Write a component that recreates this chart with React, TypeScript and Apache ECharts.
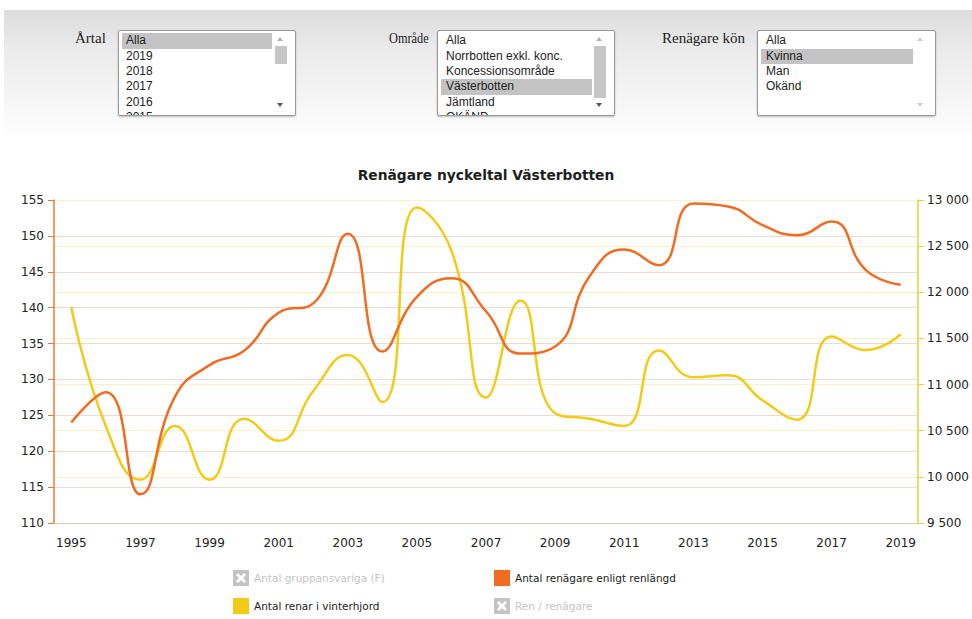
import React, { useEffect, useRef } from "react";
import * as echarts from "echarts";

// ---- data ----
const years = [
  "1995", "1996", "1997", "1998", "1999", "2000", "2001", "2002", "2003", "2004",
  "2005", "2006", "2007", "2008", "2009", "2010", "2011", "2012", "2013", "2014",
  "2015", "2016", "2017", "2018", "2019",
];
const renagareEnligtRenlangd = [
  124, 128.2, 114, 127.6, 132, 134, 139.3, 140.6, 150.3, 133.9,
  141.5, 144.1, 139.5, 133.6, 134.6, 144.4, 148.1, 145.9, 154.5, 154.1,
  151.5, 150.1, 152, 145.2, 143.2,
];
const renarIVinterhjord = [
  11840, 10550, 9970, 10550, 9970, 10630, 10390, 10930, 11320, 10810,
  12920, 12450, 10860, 11910, 10690, 10630, 10550, 11370, 11080, 11100,
  10830, 10620, 11520, 11375, 11545,
];
const gruppansvariga: number[] = [];
const renPerRenagare: number[] = [];

const seriesNames = [
  "Antal gruppansvariga (F)",
  "Antal renägare enligt renlängd",
  "Antal renar i vinterhjord",
  "Ren / renägare",
];
const leftAxis = { min: 110, max: 155, interval: 5 };
const rightAxis = { min: 9500, max: 13000, interval: 500 };
const chartTitle = "Renägare nyckeltal Västerbotten";

const artalOptions = ["Alla", "2019", "2018", "2017", "2016", "2015"];
const omradeOptions = ["Alla", "Norrbotten exkl. konc.", "Koncessionsområde", "Västerbotten", "Jämtland", "OKÄND"];
const konOptions = ["Alla", "Kvinna", "Man", "Okänd"];

const ORANGE = "#EF6C22";
const YELLOW = "#F2CB18";

const X_ICON =
  "path://M0,0L16,0L16,16L0,16Z M6,8L3,11L5,13L8,10L11,13L13,11L10,8L13,5L11,3L8,6L5,3L3,5Z";

type ListBoxProps = {
  left: number;
  top: number;
  width: number;
  items: string[];
  selected: number;
  textLeft: number;
  hlWidth: number;
  thumb: [number, number] | null;
  arrowsFaint?: boolean;
};

function Arrow({ x, y, up, color }: { x: number; y: number; up: boolean; color: string }) {
  const s: React.CSSProperties = {
    position: "absolute",
    left: x,
    top: y,
    width: 0,
    height: 0,
    borderLeft: "3.5px solid transparent",
    borderRight: "3.5px solid transparent",
  };
  if (up) s.borderBottom = `4px solid ${color}`;
  else s.borderTop = `4px solid ${color}`;
  return <div style={s} />;
}

function ListBox({ left, top, width, items, selected, textLeft, hlWidth, thumb, arrowsFaint }: ListBoxProps) {
  const height = 86;
  const lh = 15.3;
  return (
    <div
      style={{
        position: "absolute",
        left,
        top,
        width,
        height,
        boxSizing: "border-box",
        border: "1px solid #9a9a9a",
        borderRadius: 2,
        background: "#fff",
        boxShadow: "0 1px 2px rgba(0,0,0,0.25)",
        overflow: "hidden",
        fontFamily: "'Liberation Sans', Arial, sans-serif",
        fontSize: 12,
        color: "#222",
      }}
    >
      {items.map((t, i) => (
        <div
          key={t}
          style={{
            position: "absolute",
            left: 3,
            top: 2.4 + i * lh,
            width: hlWidth,
            height: lh,
            lineHeight: lh + "px",
            background: i === selected ? "#c3c3c3" : "transparent",
            paddingLeft: textLeft,
            boxSizing: "border-box",
            whiteSpace: "nowrap",
          }}
        >
          {t}
        </div>
      ))}
      <Arrow x={width - 20} y={6} up={true} color={arrowsFaint ? "#d0d0d0" : "#b0b0b0"} />
      {thumb && (
        <div
          style={{
            position: "absolute",
            left: width - 22,
            top: thumb[0],
            width: 12,
            height: thumb[1],
            background: "#c6c6c6",
          }}
        />
      )}
      <Arrow x={width - 20} y={height - 14} up={false} color={arrowsFaint ? "#d0d0d0" : "#555"} />
    </div>
  );
}

const labelStyle: React.CSSProperties = {
  position: "absolute",
  top: 29,
  fontFamily: "'Liberation Serif', 'Times New Roman', serif",
  fontSize: 15,
  color: "#222",
  lineHeight: "18px",
  whiteSpace: "nowrap",
  transformOrigin: "left top",
};

export default function App() {
  const ref = useRef<HTMLDivElement>(null);

  useEffect(() => {
    if (!ref.current) return;
    const chart = echarts.init(ref.current, undefined, { renderer: "svg" });
    const fmt = (v: number) => String(v).replace(/\B(?=(\d{3})+(?!\d))/g, " ");
    chart.setOption({
      animation: false,
      backgroundColor: "transparent",
      textStyle: { fontFamily: "'DejaVu Sans', Verdana, sans-serif" },
      title: {
        text: chartTitle,
        left: "center",
        top: 163,
        textStyle: {
          fontFamily: "'DejaVu Sans', Verdana, sans-serif",
          fontSize: 13.8,
          fontWeight: "bold",
          color: "#1e1e1e",
        },
      },
      grid: { left: 54, right: 51, top: 200, bottom: 96, containLabel: false },
      legend: {
        left: 228,
        top: 559,
        width: 540,
        orient: "horizontal",
        itemWidth: 16,
        itemHeight: 16,
        itemGap: 0,
        inactiveColor: "#c4c4c4",
        textStyle: {
          fontFamily: "'DejaVu Sans', Verdana, sans-serif",
          fontSize: 10.5,
          color: "#222",
          width: 240,
          height: 28,
          lineHeight: 28,
        },
        data: [
          { name: seriesNames[0], icon: X_ICON },
          { name: seriesNames[1], icon: "rect" },
          { name: seriesNames[2], icon: "rect" },
          { name: seriesNames[3], icon: X_ICON },
        ],
        selected: {
          [seriesNames[0]]: false,
          [seriesNames[3]]: false,
        },
      },
      xAxis: {
        type: "category",
        data: years,
        boundaryGap: true,
        axisLine: { show: true, lineStyle: { color: "#cfc8c0" } },
        axisTick: { show: false },
        axisLabel: { interval: 1, margin: 14, fontSize: 12, color: "#222" },
        splitLine: { show: false },
      },
      yAxis: [
        {
          type: "value",
          position: "left",
          min: leftAxis.min,
          max: leftAxis.max,
          interval: leftAxis.interval,
          axisLine: { show: true, lineStyle: { color: "#EF7A35", width: 1.5 } },
          axisTick: { show: true, length: 6, lineStyle: { color: "#EF7A35" } },
          axisLabel: { fontSize: 12, color: "#222", margin: 10 },
          splitLine: { show: true, lineStyle: { color: "#eedad0" } },
        },
        {
          type: "value",
          position: "right",
          min: rightAxis.min,
          max: rightAxis.max,
          interval: rightAxis.interval,
          axisLine: { show: true, lineStyle: { color: "#E5CE3C", width: 1.5 } },
          axisTick: { show: true, length: 6, lineStyle: { color: "#E5CE3C" } },
          axisLabel: { fontSize: 12, color: "#222", margin: 9, formatter: fmt },
          splitLine: { show: true, lineStyle: { color: "#faf1cc" } },
        },
      ],
      series: [
        {
          name: seriesNames[0],
          type: "line",
          yAxisIndex: 0,
          data: gruppansvariga,
          color: "#999",
          showSymbol: false,
        },
        {
          name: seriesNames[1],
          type: "line",
          yAxisIndex: 0,
          data: renagareEnligtRenlangd,
          color: ORANGE,
          smooth: true,
          showSymbol: false,
          lineStyle: { width: 2.5, color: ORANGE },
          z: 3,
        },
        {
          name: seriesNames[2],
          type: "line",
          yAxisIndex: 1,
          data: renarIVinterhjord,
          color: YELLOW,
          smooth: true,
          showSymbol: false,
          lineStyle: { width: 2.5, color: YELLOW },
          z: 2,
        },
        {
          name: seriesNames[3],
          type: "line",
          yAxisIndex: 0,
          data: renPerRenagare,
          color: "#999",
          showSymbol: false,
        },
      ],
    });
    return () => chart.dispose();
  }, []);

  return (
    <div
      style={{
        position: "fixed",
        left: 0,
        top: 0,
        width: 972,
        height: 619,
        background: "#fff",
        overflow: "hidden",
      }}
    >
      <div
        style={{
          position: "absolute",
          left: 4,
          top: 10,
          width: 968,
          height: 130,
          background: "linear-gradient(to bottom, #dcdcdc 0%, #ebebeb 30%, #f6f6f6 70%, #ffffff 100%)",
        }}
      />
      <div style={{ ...labelStyle, left: 75 }}>Årtal</div>
      <ListBox left={118} top={30} width={178} items={artalOptions} selected={0} textLeft={4} hlWidth={150} thumb={[15, 18]} />
      <div style={{ ...labelStyle, left: 389, transform: "scaleX(0.82)" }}>Område</div>
      <ListBox left={437} top={30} width={178} items={omradeOptions} selected={3} textLeft={5} hlWidth={151} thumb={[15, 52]} />
      <div style={{ ...labelStyle, left: 662 }}>Renägare kön</div>
      <ListBox left={757} top={30} width={179} items={konOptions} selected={1} textLeft={5} hlWidth={152} thumb={null} arrowsFaint />
      <div ref={ref} style={{ position: "absolute", left: 0, top: 0, width: 972, height: 619, zIndex: 1 }} />
    </div>
  );
}
